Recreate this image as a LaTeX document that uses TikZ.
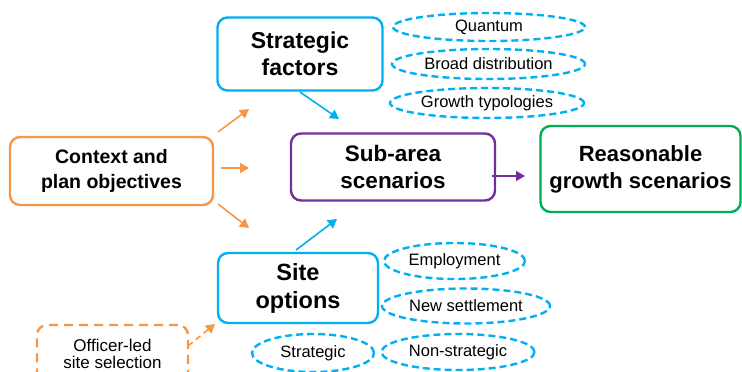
\documentclass[tikz,border=0pt]{standalone}
\usepackage{fontspec}
\setmainfont{Liberation Sans}
\usetikzlibrary{shapes.geometric,arrows.meta}
\definecolor{cy}{HTML}{00B0F0}
\definecolor{og}{HTML}{F79646}
\definecolor{pu}{HTML}{7030A0}
\definecolor{gr}{HTML}{00B050}
\tikzset{
  box/.style={draw, rounded corners=10pt, line width=2.4pt, align=center, font=\bfseries, inner sep=0pt},
  oval/.style={draw=cy, ellipse, line width=2.4pt, dash pattern=on 7pt off 4pt, inner sep=0pt, font=\fontsize{16.5}{18}\selectfont},
  arr/.style={line width=1.6pt, -{Triangle[length=9pt,width=10pt]}},
}
\begin{document}
\begin{tikzpicture}[x=1pt,y=-1pt]
\useasboundingbox (0,0) rectangle (742,372);
\clip (0,0) rectangle (742,372);
\node[box, draw=cy, minimum width=165pt, minimum height=73pt, font=\bfseries\fontsize{23}{27}\selectfont] (sf) at (300,54) {Strategic\\factors};
\node[box, draw=og, minimum width=203pt, minimum height=68pt, font=\bfseries\fontsize{19.5}{25}\selectfont] (ctx) at (111.5,171) {Context and\\plan objectives};
\node[box, draw=pu, minimum width=204pt, minimum height=67pt, font=\bfseries\fontsize{22.5}{27}\selectfont] (sub) at (393,167) {Sub-area\\scenarios};
\node[box, draw=gr, minimum width=200pt, minimum height=86pt, font=\bfseries\fontsize{22}{27}\selectfont] (rgs) at (640.5,169) {Reasonable\\growth scenarios};
\node[box, draw=cy, minimum width=160pt, minimum height=70pt, font=\bfseries\fontsize{23.5}{28}\selectfont] (so) at (298,288) {Site\\options};
\node[box, draw=og, dash pattern=on 9pt off 6pt, minimum width=151pt, minimum height=60pt, font=\fontsize{17}{21}\selectfont] (off) at (112.5,355) {\raisebox{2pt}{\shortstack{Officer-led\\[1pt]site selection}}};

\node[oval, minimum width=192pt, minimum height=28pt] (q) at (489,27) {Quantum};
\node[oval, minimum width=193pt, minimum height=30pt] (bd) at (488.5,64) {Broad distribution};
\node[oval, minimum width=194pt, minimum height=30pt] (gt) at (487,103) {Growth typologies};
\node[oval, minimum width=141pt, minimum height=36pt] (em) at (454.5,261) {Employment};
\node[oval, minimum width=168pt, minimum height=35pt] (ns) at (466,306) {New settlement};
\node[oval, minimum width=153pt, minimum height=36pt] (nst) at (458,352) {Non-strategic};
\node[oval, minimum width=122pt, minimum height=38pt] (st) at (313,353) {Strategic};

\coordinate (o1a) at (218,132); \coordinate (o1b) at (249,109);
\coordinate (o2a) at (221,168); \coordinate (o2b) at (249,168);
\coordinate (o3a) at (218,204); \coordinate (o3b) at (249,228);
\coordinate (c1a) at (300,92); \coordinate (c1b) at (339,119);
\coordinate (c2a) at (296,250); \coordinate (c2b) at (337,219);
\coordinate (p1a) at (492,176); \coordinate (p1b) at (525,176);
\coordinate (d1a) at (188,346); \coordinate (d1b) at (215,324);
\draw[arr, og] (o1a) -- (o1b);
\draw[arr, og] (o2a) -- (o2b);
\draw[arr, og] (o3a) -- (o3b);
\draw[arr, cy] (c1a) -- (c1b);
\draw[arr, cy] (c2a) -- (c2b);
\draw[arr, pu] (p1a) -- (p1b);
\draw[arr, og, dash pattern=on 6pt off 4pt] (d1a) -- (d1b);
\end{tikzpicture}
\end{document}
